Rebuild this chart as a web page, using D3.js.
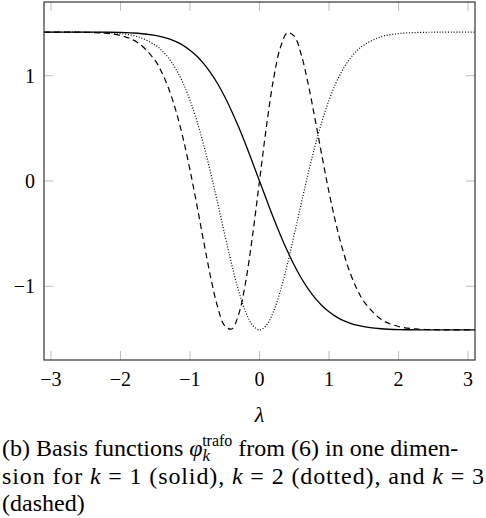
<!DOCTYPE html>
<html>
<head>
<meta charset="utf-8">
<script src="https://cdn.jsdelivr.net/npm/d3@7"></script>
</head>
<body style="margin:0">
<script>
// sample points
const lambdas = [-3.1, -2.75, -2.5, -2.25, -2, -1.75, -1.5, -1.4, -1.3, -1.2, -1.1, -1.0,
  -0.9, -0.8, -0.7, -0.6, -0.5, -0.4, -0.3, -0.2, -0.1, 0,
  0.1, 0.2, 0.3, 0.4, 0.5, 0.6, 0.7, 0.8, 0.9, 1.0, 1.1, 1.2, 1.3, 1.4, 1.5,
  1.75, 2, 2.25, 2.5, 2.75, 3.1];

// k = 1 (solid)
const solid = [1.414, 1.414, 1.414, 1.413, 1.411, 1.403, 1.383, 1.369, 1.349, 1.323, 1.288, 1.242,
  1.184, 1.112, 1.024, 0.921, 0.800, 0.663, 0.512, 0.349, 0.176, 0,
  -0.176, -0.349, -0.512, -0.663, -0.800, -0.921, -1.024, -1.112, -1.184, -1.242, -1.288, -1.323, -1.349, -1.369, -1.383,
  -1.403, -1.411, -1.413, -1.414, -1.414, -1.414];

// k = 2 (dotted)
const dotted = [1.414, 1.414, 1.413, 1.410, 1.400, 1.370, 1.291, 1.236, 1.161, 1.060, 0.931, 0.767,
  0.569, 0.335, 0.071, -0.215, -0.508, -0.792, -1.044, -1.242, -1.370, -1.414,
  -1.370, -1.242, -1.044, -0.792, -0.508, -0.215, 0.071, 0.335, 0.569, 0.767, 0.931, 1.060, 1.161, 1.236, 1.291,
  1.370, 1.400, 1.410, 1.413, 1.414, 1.414];

// k = 3 (dashed)
const dashed = [1.414, 1.414, 1.412, 1.405, 1.382, 1.314, 1.143, 1.023, 0.866, 0.661, 0.407, 0.106,
  -0.232, -0.585, -0.922, -1.201, -1.376, -1.406, -1.267, -0.961, -0.518, 0,
  0.518, 0.961, 1.267, 1.406, 1.376, 1.201, 0.922, 0.585, 0.232, -0.106, -0.407, -0.661, -0.866, -1.023, -1.143,
  -1.314, -1.382, -1.405, -1.412, -1.414, -1.414];

const xTicks = [-3, -2, -1, 0, 1, 2, 3];
const yTicks = [-1, 0, 1];
const captionLines = [
  ["(b) Basis functions ", {it: "φ"}, {sub: "k"}, {sup: "trafo"}, {back: " from (6) in one dimen-"}],
  ["sion for ", {it: "k"}, " = 1 (solid), ", {it: "k"}, " = 2 (dotted), and ", {it: "k"}, " = 3"],
  ["(dashed)"]
];

const W = 486, H = 518;
const box = { left: 44, right: 475, top: 2, bottom: 360 };

const svg = d3.select('body').append('svg')
  .attr('width', W)
  .attr('height', H);

const x = d3.scaleLinear().domain([-3.1, 3.1]).range([box.left, box.right]);
const y = d3.scaleLinear().domain([-1.7, 1.7]).range([box.bottom, box.top]);

const minus = v => (v < 0 ? '\u2212' + Math.abs(v) : '' + v);

// x tick labels
svg.selectAll('text.xt').data(xTicks).enter().append('text')
  .attr('class', 'xt')
  .attr('x', d => x(d))
  .attr('y', 386)
  .attr('text-anchor', 'middle')
  .attr('font-size', 20)
  .attr('font-family', 'Liberation Serif')
  .text(d => minus(d));
// y tick labels
svg.selectAll('text.yt').data(yTicks).enter().append('text')
  .attr('class', 'yt')
  .attr('x', 35)
  .attr('y', d => y(d) + 7)
  .attr('text-anchor', 'end')
  .attr('font-size', 20)
  .style('font-family', '"Times New Roman"')
  .text(d => minus(d));

// axis label
svg.append('text')
  .attr('x', x(0))
  .attr('y', 422)
  .attr('text-anchor', 'middle')
  .attr('font-size', 22)
  .style('font-family', '"Liberation Serif"')
  .style('font-style', 'italic')
  .text('λ');

// caption
const capBase = [456, 483.5, 511];
captionLines.forEach((parts, i) => {
  const t = svg.append('text')
    .attr('x', 2)
    .attr('y', capBase[i])
    .attr('font-size', 24)
    .style('font-family', '"Liberation Serif"');
  if (i === 1) t.attr('textLength', 482).attr('lengthAdjust', 'spacing');
  parts.forEach(p => {
    if (typeof p === 'string') t.append('tspan').text(p);
    else if (p.it) t.append('tspan').style('font-style', 'italic').text(p.it);
    else if (p.sub) t.append('tspan').style('font-style', 'italic').attr('font-size', 17)
      .attr('dy', 5).text(p.sub);
    else if (p.sup) t.append('tspan').attr('font-size', 16)
      .attr('dy', -15).attr('dx', -8).text(p.sup);
    else if (p.back) t.append('tspan').attr('dy', 10).text(p.back);
  });
});

// inward ticks on all four sides, drawn as plain lines
const tickLen = 9;
const tickCol = '#bdbdbd';
const ticks = svg.append('g').attr('stroke', tickCol).attr('stroke-width', 1);
ticks.selectAll('line.xb').data(xTicks).enter().append('line')
  .attr('x1', d => x(d)).attr('x2', d => x(d))
  .attr('y1', box.bottom).attr('y2', box.bottom - tickLen);
ticks.selectAll('line.xtp').data(xTicks).enter().append('line')
  .attr('x1', d => x(d)).attr('x2', d => x(d))
  .attr('y1', box.top).attr('y2', box.top + tickLen);
ticks.selectAll('line.yl').data(yTicks).enter().append('line')
  .attr('x1', box.left).attr('x2', box.left + tickLen)
  .attr('y1', d => y(d)).attr('y2', d => y(d));
ticks.selectAll('line.yr').data(yTicks).enter().append('line')
  .attr('x1', box.right).attr('x2', box.right - tickLen)
  .attr('y1', d => y(d)).attr('y2', d => y(d));

// curves
const line = d3.line()
  .x(d => x(d[0]))
  .y(d => y(d[1]))
  .curve(d3.curveCatmullRom.alpha(0.5));

const series = [
  { vals: solid, dash: null, w: 1.3 },
  { vals: dotted, dash: '1,1.8', w: 1.2 },
  { vals: dashed, dash: '6,4', w: 1.2 }
];

svg.append('g')
  .selectAll('path').data(series).enter().append('path')
  .attr('fill', 'none')
  .attr('stroke', '#000')
  .attr('stroke-width', d => d.w)
  .attr('stroke-dasharray', d => d.dash)
  .attr('d', d => line(lambdas.map((l, i) => [l, d.vals[i]])));

// frame
svg.append('rect')
  .attr('x', box.left).attr('y', box.top)
  .attr('width', box.right - box.left).attr('height', box.bottom - box.top)
  .attr('fill', 'none')
  .attr('stroke', '#333')
  .attr('stroke-width', 1.2);
</script>
</body>
</html>
